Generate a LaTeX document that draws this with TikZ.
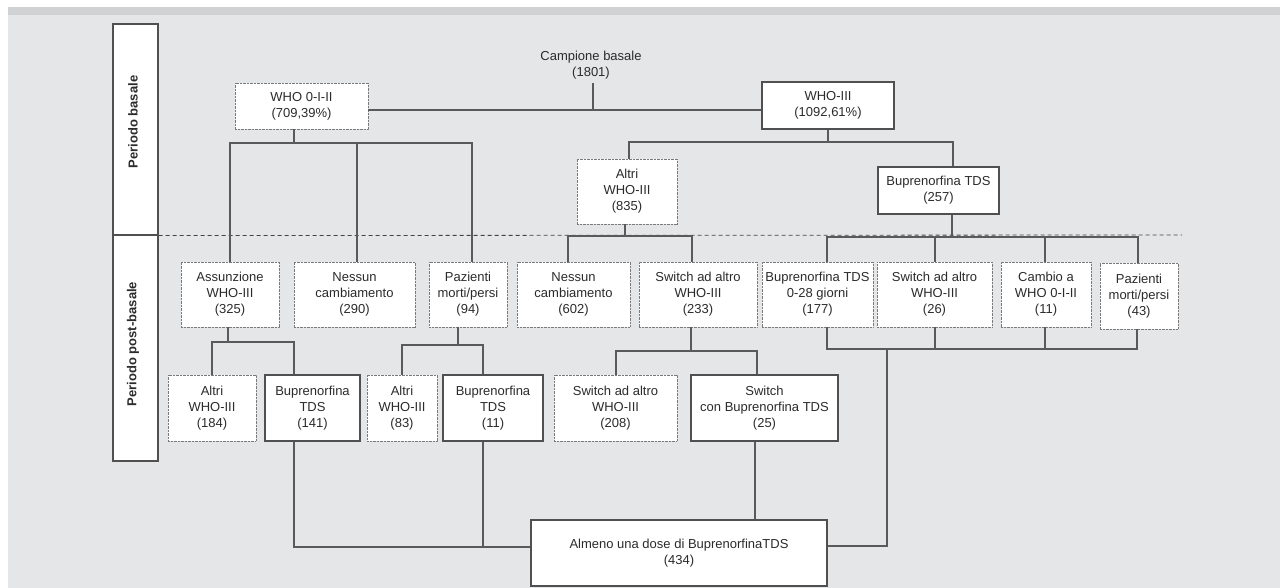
\documentclass[tikz,border=0pt]{standalone}
\usepackage{fontspec}
\setmainfont{Liberation Sans}
\definecolor{txtc}{HTML}{2B2B2B}
\definecolor{boxc}{HTML}{505050}
\definecolor{dotc}{HTML}{7A7A7A}
\definecolor{linec}{HTML}{5A5A5A}
\definecolor{bgc}{HTML}{E5E6E8}
\definecolor{bandc}{HTML}{D0D1D3}
\definecolor{dashc}{HTML}{444444}
\begin{document}
\begin{tikzpicture}[x=1pt,y=-1pt,
  txt/.style={text=txtc, font=\fontsize{13}{16}\selectfont, align=center},
  solidbox/.style={txt, draw=boxc, line width=1.1pt, fill=white, inner sep=0pt},
  dotbox/.style={txt, draw=dotc, line width=0.9pt, dash pattern=on 0.7pt off 0.7pt, fill=white, inner sep=0pt},
  conn/.style={draw=linec, line width=1.1pt},
  sidebox/.style={draw=boxc, line width=1.1pt, fill=white, inner sep=0pt, minimum width=45pt},
  sidetxt/.style={text=txtc, font=\fontsize{13}{16}\selectfont\bfseries, rotate=90},
]
% background
\fill[white] (0,0) rectangle (1280,588);
\fill[bgc] (8,15) rectangle (1280,588);
\fill[bandc] (8,7) rectangle (1280,15);
\useasboundingbox (0,0) rectangle (1280,588);

% side panels
\node[sidebox, minimum height=211pt] (sb) at (135.5,129.5) {};
\node[sidebox, minimum height=226pt] (sp) at (135.5,348) {};
\node[sidetxt] (sbl) at (133,122) {Periodo basale};
\node[sidetxt] (spl) at (133,344) {Periodo post-basale};

% dashed separator
\coordinate (dashend) at (1182,235);
\draw[dashc, line width=0.8pt, dash pattern=on 4pt off 3pt] (sb.south east) -- (dashend);

% top level
\node[txt, inner sep=0pt] (camp) at (591,65) {Campione basale\\(1801)};
\node[dotbox, minimum width=133pt, minimum height=46pt] (who012) at (301.5,106) {WHO 0-I-II\\(709,39\%)};
\node[solidbox, minimum width=132pt, minimum height=47pt] (who3) at (828,105.5) {WHO-III\\(1092,61\%)};
\node[dotbox, minimum width=100pt, minimum height=65pt] (alt835) at (627,191.5) {Altri\\WHO-III\\(835)};
\node[solidbox, minimum width=121pt, minimum height=47pt] (bup257) at (938.5,190.5) {Buprenorfina TDS\\(257)};

% row 2
\node[dotbox, minimum width=98pt, minimum height=65pt] (ass325) at (230,294.5) {Assunzione\\WHO-III\\(325)};
\node[dotbox, minimum width=121pt, minimum height=65pt] (nes290) at (354.5,294.5) {Nessun\\cambiamento\\(290)};
\node[dotbox, minimum width=78pt, minimum height=65pt] (paz94) at (468,294.5) {Pazienti\\morti/persi\\(94)};
\node[dotbox, minimum width=113pt, minimum height=65pt] (nes602) at (573.5,294.5) {Nessun\\cambiamento\\(602)};
\node[dotbox, minimum width=118pt, minimum height=65pt] (sw233) at (698,294.5) {Switch ad altro\\WHO-III\\(233)};
\node[dotbox, minimum width=111pt, minimum height=65pt] (bup177) at (817.5,294.5) {Buprenorfina TDS\\0-28 giorni\\(177)};
\node[dotbox, minimum width=115pt, minimum height=65pt] (sw26) at (934.5,294.5) {Switch ad altro\\WHO-III\\(26)};
\node[dotbox, minimum width=90pt, minimum height=65pt] (cam11) at (1046,294.5) {Cambio a\\WHO 0-I-II\\(11)};
\node[dotbox, minimum width=78pt, minimum height=66pt] (paz43) at (1139,296) {Pazienti\\morti/persi\\(43)};

% row 3
\node[dotbox, minimum width=88pt, minimum height=66pt] (alt184) at (212,408) {Altri\\WHO-III\\(184)};
\node[solidbox, minimum width=95pt, minimum height=66pt] (bup141) at (312.5,408) {Buprenorfina\\TDS\\(141)};
\node[dotbox, minimum width=70pt, minimum height=66pt] (alt83) at (402,408) {Altri\\WHO-III\\(83)};
\node[solidbox, minimum width=100pt, minimum height=66pt] (bup11) at (493,408) {Buprenorfina\\TDS\\(11)};
\node[dotbox, minimum width=123pt, minimum height=66pt] (sw208) at (615.5,408) {Switch ad altro\\WHO-III\\(208)};
\node[solidbox, minimum width=147pt, minimum height=66pt] (swb25) at (764.5,408) {Switch\\con Buprenorfina TDS\\(25)};

% bottom
\node[solidbox, minimum width=296pt, minimum height=66pt] (alm) at (679,553) {Almeno una dose di BuprenorfinaTDS\\(434)};

% junction coordinates
\coordinate (j0) at (593,110);
\coordinate (j1) at (294,143);
\coordinate (j2) at (828,142);
\coordinate (j3) at (625,236);
\coordinate (j4) at (952,237);
\coordinate (j5) at (228,342);
\coordinate (j6) at (458,345);
\coordinate (j7) at (691,351);
\coordinate (j8) at (887,349);
\coordinate (j9) at (887,546);
\coordinate (j10) at (294,547);

% connectors
\draw[conn] (camp.south -| j0) ++(0,4) -- (j0);
\draw[conn] (who012.east |- j0) -- (who3.west |- j0);

\draw[conn] (who012.south -| j1) -- (j1);
\draw[conn] (ass325.north -| 230,0) |- (j1) -| (paz94.north -| 472,0);
\draw[conn] (nes290.north -| 357,0) -- (357,143);

\draw[conn] (who3.south -| j2) -- (j2);
\draw[conn] (alt835.north -| 629,0) |- (j2) -| (bup257.north -| 953,0);

\draw[conn] (alt835.south -| j3) -- (j3);
\draw[conn] (nes602.north -| 568,0) |- (j3) -| (sw233.north -| 692,0);

\draw[conn] (bup257.south -| j4) -- (j4);
\draw[conn] (bup177.north -| 827,0) |- (j4) -| (paz43.north -| 1138,0);
\draw[conn] (sw26.north -| 935,0) -- (935,237);
\draw[conn] (cam11.north -| 1045,0) -- (1045,237);

\draw[conn] (ass325.south -| j5) -- (j5);
\draw[conn] (alt184.north -| 212,0) |- (j5) -| (bup141.north -| 294,0);

\draw[conn] (paz94.south -| j6) -- (j6);
\draw[conn] (alt83.north -| 402,0) |- (j6) -| (bup11.north -| 483,0);

\draw[conn] (sw233.south -| j7) -- (j7);
\draw[conn] (sw208.north -| 616,0) |- (j7) -| (swb25.north -| 757,0);

\draw[conn] (bup177.south -| 827,0) |- (j8) -| (paz43.south -| 1137,0);
\draw[conn] (sw26.south -| 935,0) -- (935,349);
\draw[conn] (cam11.south -| 1045,0) -- (1045,349);
\draw[conn] (j8) -- (j9) -- (alm.east |- j9);

\draw[conn] (bup141.south -| j10) -- (j10) -- (alm.west |- j10);
\draw[conn] (bup11.south -| 483,0) -- (483,547);
\draw[conn] (swb25.south -| 755,0) -- (alm.north -| 755,0);
\end{tikzpicture}
\end{document}
